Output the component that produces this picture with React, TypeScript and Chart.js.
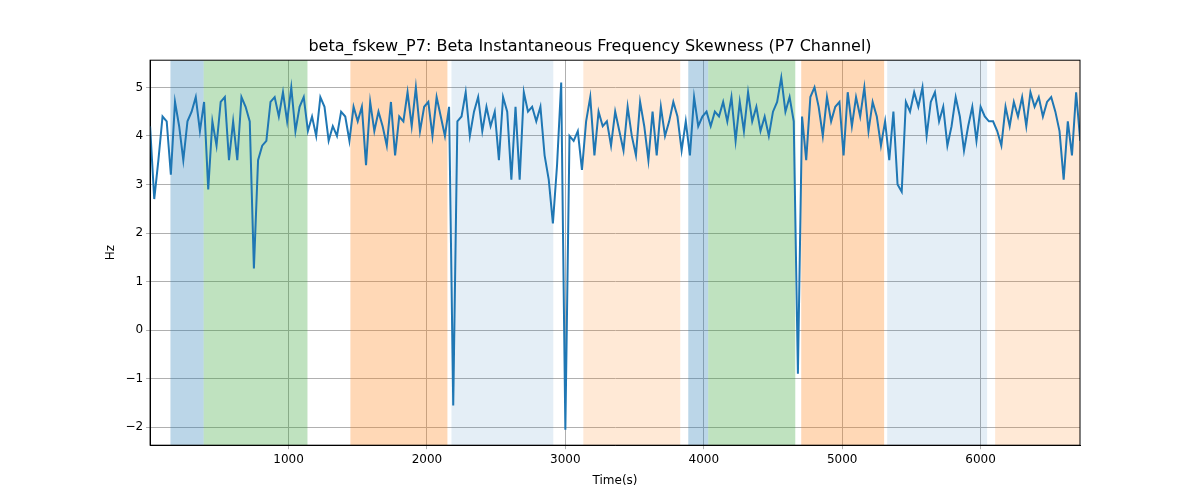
import React, { useEffect, useRef } from "react";
import { Chart, registerables } from "chart.js";
Chart.register(...registerables);

const STEP = 30;
const values: number[] = [
  4.2,2.7,3.5,4.4,4.3,3.2,4.7,4.2,3.5,4.3,
  4.5,4.8,4.1,4.7,2.9,4.3,3.8,4.7,4.8,3.5,
  4.3,3.5,4.8,4.6,4.3,1.27,3.5,3.8,3.9,4.7,
  4.8,4.4,4.9,4.3,5.0,4.1,4.6,4.8,4.1,4.4,
  4.0,4.8,4.6,3.9,4.2,4.0,4.5,4.4,3.9,4.6,
  4.3,4.6,3.4,4.7,4.1,4.5,4.2,3.8,4.7,3.6,
  4.4,4.3,4.9,4.2,5.0,4.1,4.6,4.7,4.0,4.8,
  4.4,4.0,4.6,-1.55,4.3,4.4,4.9,4.0,4.5,4.8,
  4.1,4.6,4.2,4.5,3.5,4.8,4.5,3.1,4.6,3.1,
  4.9,4.5,4.6,4.3,4.6,3.6,3.1,2.2,3.4,5.1,
  -2.05,4.0,3.9,4.1,3.3,4.3,4.8,3.6,4.5,4.2,
  4.3,3.8,4.5,4.1,3.7,4.6,4.0,3.6,4.7,4.2,
  3.5,4.5,3.6,4.6,4.0,4.3,4.7,4.4,3.7,4.3,
  3.6,4.8,4.2,4.4,4.5,4.2,4.5,4.4,4.7,4.3,
  4.8,3.9,4.7,4.1,4.9,4.3,4.6,4.1,4.4,4.0,
  4.5,4.7,5.2,4.5,4.8,4.3,-0.9,4.4,3.5,4.8,
  5.0,4.6,4.0,4.8,4.3,4.6,4.7,3.6,4.9,4.2,
  4.8,4.4,5.0,4.1,4.7,4.4,3.8,4.3,3.5,4.5,
  3.0,2.85,4.7,4.5,4.9,4.6,5.0,4.0,4.7,4.9,
  4.3,4.6,3.8,4.2,4.8,4.4,3.7,4.2,4.6,3.9,
  4.6,4.4,4.3,4.3,4.1,3.8,4.6,4.2,4.7,4.4,
  4.8,4.2,4.9,4.6,4.8,4.4,4.7,4.8,4.5,4.1,
  3.1,4.3,3.6,4.9,3.9
];
const times: number[] = values.map((_, i) => i * STEP);
const xTicks = [1000, 2000, 3000, 4000, 5000, 6000];
const yTicks = [-2, -1, 0, 1, 2, 3, 4, 5];

const spanStarts = [147, 387, 1447, 2177, 3130, 3888, 4032, 4704, 5325, 6105];
const spanEnds = [387, 1137, 2148, 2913, 3830, 4032, 4661, 5303, 6047, 6718];
const spanColors = [
  "rgba(31,119,180,0.3)", "rgba(44,160,44,0.3)", "rgba(255,127,14,0.3)",
  "rgba(31,119,180,0.12)", "rgba(255,127,14,0.17)", "rgba(31,119,180,0.3)",
  "rgba(44,160,44,0.3)", "rgba(255,127,14,0.3)", "rgba(31,119,180,0.12)",
  "rgba(255,127,14,0.17)"
];

export default function App() {
  const ref = useRef<HTMLCanvasElement>(null);
  useEffect(() => {
    const spans = {
      id: "spans",
      beforeDatasetsDraw(chart: any) {
        const { ctx, chartArea, scales } = chart;
        ctx.save();
        spanStarts.forEach((s, i) => {
          const x0 = scales.x.getPixelForValue(s);
          const x1 = scales.x.getPixelForValue(spanEnds[i]);
          ctx.fillStyle = spanColors[i];
          ctx.fillRect(x0, chartArea.top, x1 - x0, chartArea.bottom - chartArea.top);
        });
        ctx.restore();
      },
      afterDraw(chart: any) {
        const { ctx, chartArea: a } = chart;
        ctx.save();
        ctx.strokeStyle = "#000";
        ctx.lineWidth = 1;
        ctx.strokeRect(a.left, a.top, a.right - a.left, a.bottom - a.top);
        ctx.restore();
      },
    };
    const chart = new Chart(ref.current!, {
      type: "line",
      data: {
        datasets: [{
          data: times.map((t, i) => ({ x: t, y: values[i] })),
          borderColor: "#1f77b4", borderWidth: 2, pointRadius: 0, tension: 0,
        }],
      },
      options: {
        animation: false, responsive: false,
        layout: { padding: { left: 100, right: 120, top: 37, bottom: 8 } },
        plugins: {
          legend: { display: false },
          title: { display: true, text: "beta_fskew_P7: Beta Instantaneous Frequency Skewness (P7 Channel)",
            color: "#000", font: { family: "DejaVu Sans", size: 16, weight: "normal" }, padding: { top: 0, bottom: 4 } },
          tooltip: { enabled: false },
        },
        scales: {
          x: {
            type: "linear", min: 0, max: 6718,
            afterBuildTicks: (ax: any) => { ax.ticks = xTicks.map(v => ({ value: v })); },
            ticks: { color: "#000", font: { family: "DejaVu Sans", size: 12 }, maxRotation: 0, callback: (v: any) => String(v) },
            grid: { color: "#b0b0b0", tickLength: 4 },
            border: { color: "#000" },
            title: { display: true, text: "Time(s)", color: "#000", font: { family: "DejaVu Sans", size: 12 } },
          },
          y: {
            min: -2.37, max: 5.56,
            afterBuildTicks: (ax: any) => { ax.ticks = yTicks.map(v => ({ value: v })); },
            ticks: { color: "#000", font: { family: "DejaVu Sans", size: 12 }, callback: (v: any) => (v < 0 ? "\u2212" + Math.abs(v) : String(v)) },
            grid: { color: "#b0b0b0", tickLength: 4 },
            border: { color: "#000" },
            title: { display: true, text: "Hz", color: "#000", font: { family: "DejaVu Sans", size: 12 } },
          },
        },
      },
      plugins: [spans],
    });
    return () => chart.destroy();
  }, []);
  return (
    <div style={{ position: "absolute", left: 0, top: 0, width: 1200, height: 500, background: "#fff" }}>
      <canvas ref={ref} width={1200} height={500} />
    </div>
  );
}
